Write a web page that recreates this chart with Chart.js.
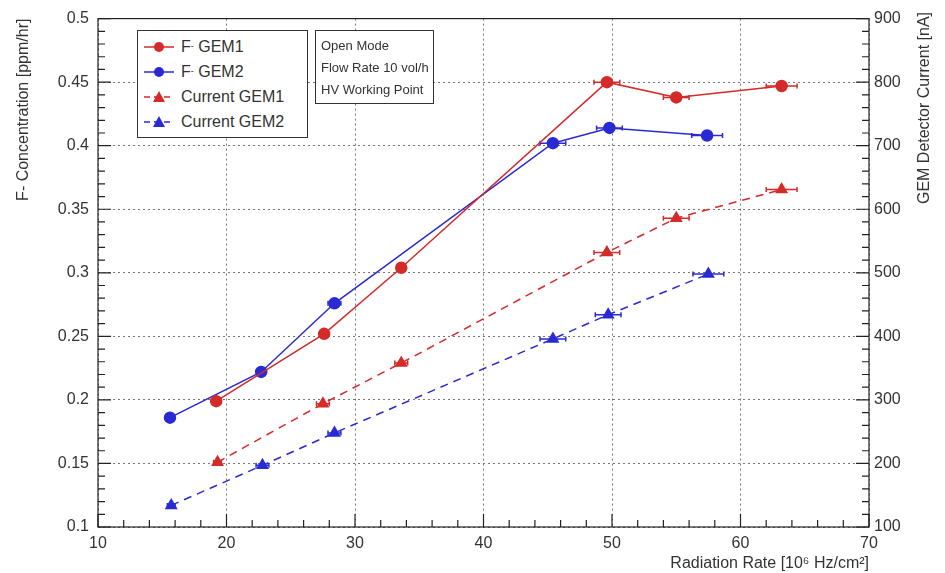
<!DOCTYPE html>
<html>
<head>
<meta charset="utf-8">
<script src="https://cdn.jsdelivr.net/npm/chart.js@4.4.0/dist/chart.umd.min.js"></script>
<style>
body { margin: 0; background: #fff; font-family: "Liberation Sans", Arial, sans-serif; }
#wrap { position: relative; width: 945px; height: 573px; }
.box { position: absolute; background: #fff; border: 1.5px solid #333; color: #333; box-sizing: border-box; white-space: nowrap; }
#legend { left: 137px; top: 30px; width: 171px; height: 108px; font-size: 16px; padding: 3px 0 0 5px; }
#legend div { height: 25px; line-height: 25px; display: flex; align-items: center; }
#legend svg { margin-right: 6px; }
#legend sup { font-size: 9px; vertical-align: 7px; }
#info { left: 315px; top: 30px; width: 119px; height: 74px; font-size: 13px; padding: 4px 0 0 5px; line-height: 22px; overflow: hidden; }
</style>
</head>
<body>
<div id="wrap">
<canvas id="canvas" width="945" height="573"></canvas>
<div id="legend" class="box">
  <div><svg width="32" height="14"><line x1="1" y1="7" x2="31" y2="7" stroke="#d42a2a" stroke-width="1.5"/><circle cx="16" cy="7" r="5" fill="#d42a2a"/></svg>F<sup>-</sup>&nbsp;GEM1</div>
  <div><svg width="32" height="14"><line x1="1" y1="7" x2="31" y2="7" stroke="#2a2ad4" stroke-width="1.5"/><circle cx="16" cy="7" r="5" fill="#2a2ad4"/></svg>F<sup>-</sup>&nbsp;GEM2</div>
  <div><svg width="32" height="14"><line x1="1" y1="7" x2="31" y2="7" stroke="#d42a2a" stroke-width="1.5" stroke-dasharray="6,4"/><polygon points="16,1 22,12 10,12" fill="#d42a2a"/></svg>Current GEM1</div>
  <div><svg width="32" height="14"><line x1="1" y1="7" x2="31" y2="7" stroke="#2a2ad4" stroke-width="1.5" stroke-dasharray="6,4"/><polygon points="16,1 22,12 10,12" fill="#2a2ad4"/></svg>Current GEM2</div>
</div>
<div id="info" class="box">Open Mode<br>Flow Rate 10 vol/h<br>HV Working Point</div>
</div>
<script>
var xF1 = [19.2, 27.6, 33.6, 49.6, 55.0, 63.2];
var fGem1 = [0.199, 0.252, 0.304, 0.450, 0.438, 0.447];
var errF1 = [0.3, 0.3, 0.3, 1.0, 1.0, 1.2];

var xF2 = [15.6, 22.7, 28.4, 45.4, 49.8, 57.4];
var fGem2 = [0.186, 0.222, 0.276, 0.402, 0.414, 0.408];
var errF2 = [0.3, 0.3, 0.5, 1.0, 1.0, 1.2];

var xC1 = [19.3, 27.5, 33.6, 49.6, 55.0, 63.2];
var curGem1 = [202, 294, 358, 532, 586, 631];
var errC1 = [0.3, 0.5, 0.5, 1.0, 1.0, 1.2];

var xC2 = [15.7, 22.8, 28.4, 45.4, 49.7, 57.5];
var curGem2 = [134, 197, 248, 396, 434, 498];
var errC2 = [0.3, 0.5, 0.5, 1.0, 1.0, 1.2];

var red = '#d42a2a';
var blue = '#2a2ad4';
var textColor = '#333';
var font = { family: '"Liberation Sans", Arial, sans-serif', size: 16 };

var pts = function(xs, ys) {
    return xs.map(function(x, i) { return { x: x, y: ys[i] }; });
};

var errorBars = {
    id: 'errorBars',
    beforeDatasetsDraw: function(chart) {
        var ctx = chart.ctx;
        var xs = chart.scales.x;
        chart.data.datasets.forEach(function(ds) {
            var ys = chart.scales[ds.yAxisID];
            ctx.save();
            ctx.strokeStyle = ds.borderColor;
            ctx.lineWidth = 1.5;
            ds.data.forEach(function(p, j) {
                var e = ds.xErr[j];
                var y = ys.getPixelForValue(p.y);
                var x0 = xs.getPixelForValue(p.x - e);
                var x1 = xs.getPixelForValue(p.x + e);
                ctx.beginPath();
                ctx.moveTo(x0, y); ctx.lineTo(x1, y);
                ctx.moveTo(x0, y - 2.5); ctx.lineTo(x0, y + 2.5);
                ctx.moveTo(x1, y - 2.5); ctx.lineTo(x1, y + 2.5);
                ctx.stroke();
            });
            ctx.restore();
        });
    }
};

var frame = {
    id: 'frame',
    afterDraw: function(chart) {
        var ctx = chart.ctx;
        var a = chart.chartArea;
        var x = chart.scales.x, y = chart.scales.y, y2 = chart.scales.y2;
        ctx.save();
        ctx.strokeStyle = '#222';
        ctx.lineWidth = 1.2;
        ctx.strokeRect(a.left, a.top, a.right - a.left, a.bottom - a.top);
        ctx.beginPath();
        var v, p, len;
        for (v = 10; v <= 70.001; v += 2) {
            p = x.getPixelForValue(v);
            len = (Math.abs(v % 10) < 0.01) ? 13 : 7;
            ctx.moveTo(p, a.bottom); ctx.lineTo(p, a.bottom - len);
        }
        for (v = 0.1; v <= 0.5001; v += 0.01) {
            p = y.getPixelForValue(v);
            len = (Math.abs(Math.round(v * 100) % 5) < 0.01) ? 13 : 7;
            ctx.moveTo(a.left, p); ctx.lineTo(a.left + len, p);
        }
        for (v = 100; v <= 900; v += 20) {
            p = y2.getPixelForValue(v);
            len = (v % 100 === 0) ? 13 : 7;
            ctx.moveTo(a.right, p); ctx.lineTo(a.right - len, p);
        }
        ctx.stroke();
        // right axis title, read bottom to top
        ctx.translate(925, 12);
        ctx.rotate(-Math.PI / 2);
        ctx.fillStyle = textColor;
        ctx.font = '16px "Liberation Sans", Arial, sans-serif';
        ctx.textAlign = 'right';
        ctx.textBaseline = 'middle';
        ctx.fillText('GEM Detector Current [nA]', 0, 0);
        ctx.restore();
    }
};

var config = {
    type: 'scatter',
    data: {
        datasets: [{
            label: 'F⁻ GEM1',
            data: pts(xF1, fGem1),
            xErr: errF1,
            yAxisID: 'y',
            showLine: true,
            borderColor: red,
            backgroundColor: red,
            borderWidth: 1.5,
            pointRadius: 5.5,
            pointStyle: 'circle'
        }, {
            label: 'F⁻ GEM2',
            data: pts(xF2, fGem2),
            xErr: errF2,
            yAxisID: 'y',
            showLine: true,
            borderColor: blue,
            backgroundColor: blue,
            borderWidth: 1.5,
            pointRadius: 5.5,
            pointStyle: 'circle'
        }, {
            label: 'Current GEM1',
            data: pts(xC1, curGem1),
            xErr: errC1,
            yAxisID: 'y2',
            showLine: true,
            borderColor: red,
            backgroundColor: red,
            borderWidth: 1.5,
            borderDash: [8, 6],
            pointRadius: 6,
            pointStyle: 'triangle'
        }, {
            label: 'Current GEM2',
            data: pts(xC2, curGem2),
            xErr: errC2,
            yAxisID: 'y2',
            showLine: true,
            borderColor: blue,
            backgroundColor: blue,
            borderWidth: 1.5,
            borderDash: [8, 6],
            pointRadius: 6,
            pointStyle: 'triangle'
        }]
    },
    options: {
        responsive: false,
        animation: false,
        layout: { padding: { top: 15, left: 0, right: 0, bottom: 0 } },
        plugins: {
            legend: { display: false },
            tooltip: { enabled: false }
        },
        scales: {
            x: {
                type: 'linear',
                min: 10, max: 70,
                afterFit: function(s) { s.height = 46; },
                ticks: { stepSize: 10, color: textColor, font: font, padding: 7, maxRotation: 0 },
                grid: { color: '#777', lineWidth: 1, drawTicks: false },
                border: { display: false, dash: [2, 3] },
                title: { display: true, text: 'Radiation Rate [10⁶ Hz/cm²]', align: 'end', color: textColor, font: font, padding: { top: 0, bottom: 0 } }
            },
            y: {
                position: 'left',
                min: 0.1, max: 0.5,
                afterFit: function(s) { s.width = 98; },
                ticks: {
                    stepSize: 0.05, color: textColor, font: font, padding: 9,
                    callback: function(v) { return String(Number(v.toFixed(2))); }
                },
                grid: { color: '#777', lineWidth: 1, drawTicks: false },
                border: { display: false, dash: [2, 3] },
                title: { display: true, text: 'F- Concentration [ppm/hr]', align: 'end', color: textColor, font: font, padding: { top: 14 } }
            },
            y2: {
                position: 'right',
                min: 100, max: 900,
                afterFit: function(s) { s.width = 76; },
                ticks: { stepSize: 100, color: textColor, font: font, padding: 5 },
                grid: { display: false, drawTicks: false },
                border: { display: false }
            }
        }
    },
    plugins: [errorBars, frame]
};

window.onload = function() {
    window.myChart = new Chart(document.getElementById('canvas'), config);
};
</script>
</body>
</html>
